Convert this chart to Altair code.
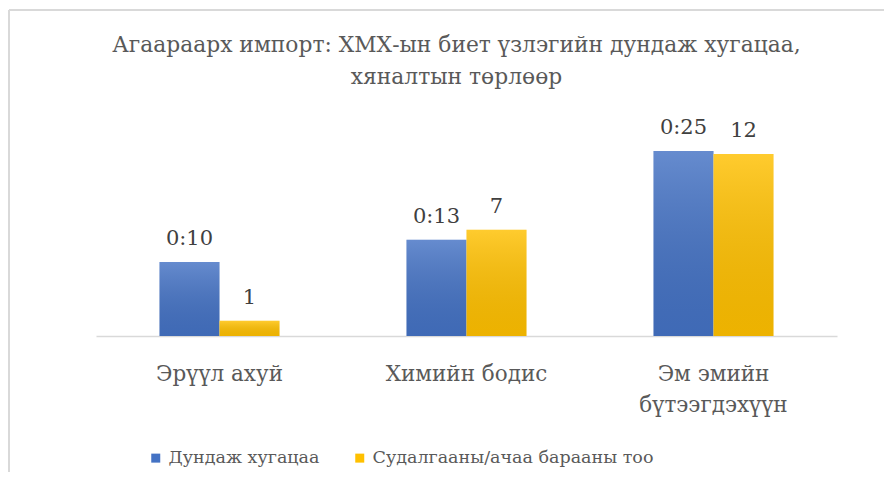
import altair as alt
import pandas as pd

categories = ["Эрүүл ахуй", "Химийн бодис", "Эм эмийн бүтээгдэхүүн"]
series = ["Дундаж хугацаа", "Судалгааны/ачаа барааны тоо"]
avg_minutes = [10, 13, 25]
avg_labels = ["0:10", "0:13", "0:25"]
counts = [1, 7, 12]
count_labels = ["1", "7", "12"]
colors = ["#4472C4", "#FFC000"]

rows = []
for c, v, l in zip(categories, avg_minutes, avg_labels):
    rows.append({"category": c, "series": series[0], "value": v, "label": l})
for c, v, l in zip(categories, counts, count_labels):
    rows.append({"category": c, "series": series[1], "value": v, "label": l})
df = pd.DataFrame(rows)

FONT = "DejaVu Serif"
W, H = 741, 222

x_enc = alt.X("category:N", sort=categories, title=None,
              scale=alt.Scale(paddingInner=0.514, paddingOuter=0.257),
              axis=alt.Axis(domainColor="#d9d9d9", domainWidth=1.5, ticks=False,
                            labelAngle=0, labelFont=FONT, labelFontSize=21.5,
                            labelColor="#595959", labelPadding=27, labelLineHeight=31,
                            labelBaseline="top",
                            labelExpr="datum.label == 'Эм эмийн бүтээгдэхүүн' ? ['Эм эмийн', 'бүтээгдэхүүн'] : datum.label"))
xo_enc = alt.XOffset("series:N", sort=series, scale=alt.Scale(domain=series, paddingInner=0, paddingOuter=0))

overlay = alt.Gradient(gradient="linear", x1=0, y1=0, x2=0, y2=1,
                       stops=[alt.GradientStop(offset=0, color="rgba(255,255,255,0.18)"),
                              alt.GradientStop(offset=1, color="rgba(0,0,0,0.07)")])


def series_layer(name, ymax):
    d = alt.Chart(df).transform_filter(alt.datum.series == name)
    y_enc = alt.Y("value:Q", scale=alt.Scale(domain=[0, ymax], nice=False), axis=None)
    bars = d.mark_bar().encode(
        x=x_enc, xOffset=xo_enc, y=y_enc,
        color=alt.Color("series:N", sort=series,
                        scale=alt.Scale(domain=series, range=colors),
                        legend=alt.Legend(title=None, orient="none", direction="horizontal",
                                          legendX=51, legendY=335, symbolType="square",
                                          symbolSize=81, symbolStrokeWidth=0,
                                          labelFont=FONT, labelFontSize=17.5, labelColor="#595959",
                                          labelOffset=4, columnPadding=31, labelLimit=500)))
    shade = d.mark_bar(color=overlay).encode(x=x_enc, xOffset=xo_enc, y=y_enc)
    text = d.mark_text(font=FONT, fontSize=21, color="#404040", baseline="alphabetic", dy=-17).encode(
        x=x_enc, xOffset=xo_enc, y=y_enc, text="label:N")
    return alt.layer(bars, shade, text)


blue = series_layer(series[0], 30)
yellow = series_layer(series[1], 14.63)

frame_top = alt.Chart(df).mark_rule(color="#d9d9d9", strokeWidth=1.5).encode(
    x=alt.value(-87), x2=alt.value(900), y=alt.value(-104))
frame_left = alt.Chart(df).mark_rule(color="#d9d9d9", strokeWidth=1.5).encode(
    x=alt.value(-87), y=alt.value(-104), y2=alt.value(500))

chart = alt.layer(blue, yellow, frame_top, frame_left).resolve_scale(y="independent").properties(
    width=W, height=H,
    padding={"left": 88, "top": 106, "right": 47, "bottom": 136},
    autosize=alt.AutoSizeParams(type="none"),
    title=alt.Title(["Агаараарх импорт: ХМХ-ын биет үзлэгийн дундаж хугацаа,", "хяналтын төрлөөр"],
                    font=FONT, fontSize=21.8, fontWeight="normal", color="#595959",
                    anchor="middle", frame="group", dx=-10, offset=0, dy=80, lineHeight=32),
).configure_view(stroke=None)

chart.save("out.html", embed_options={"renderer": "svg", "actions": False})
